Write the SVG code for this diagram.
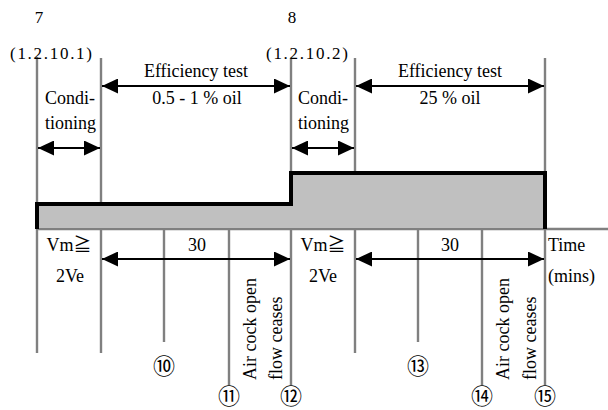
<svg xmlns="http://www.w3.org/2000/svg" width="608" height="410" viewBox="0 0 608 410">
<defs>
<style>
text{font-family:"Liberation Serif","Times New Roman",serif;font-size:18px;fill:#000}
.sym{font-family:"Liberation Serif","Noto Sans CJK JP",serif}
.hd{font-size:17px}
.c{text-anchor:middle}
.num{font-family:"Noto Sans CJK JP",sans-serif;font-size:22px;text-anchor:middle;dominant-baseline:central}
.vl{stroke:#808080;stroke-width:2.4;fill:none}
.ar{stroke:#000;stroke-width:2;fill:none;marker-start:url(#ah);marker-end:url(#ah)}
</style>
<marker id="ah" viewBox="0 0 16 15" refX="16" refY="7.5" markerWidth="16" markerHeight="15" markerUnits="userSpaceOnUse" orient="auto-start-reverse">
<path d="M0,0 L16,7.5 L0,15 Z" fill="#000"/>
</marker>
</defs>

<g id="gridlines">
<path class="vl" d="M37,57V353 M101,58V353 M164,229V342 M229,229V385 M291,58V385 M355,58V353 M418,229V342 M482,229V385 M545,58V385 M37,229H608"/>
</g>

<g id="level">
<path d="M37,228V204H291V173H545V228Z" fill="#c0c0c0"/>
<path d="M37,229V204H291V173H545V229" fill="none" stroke="#000" stroke-width="4"/>
</g>

<g id="headers">
<text class="hd c" x="39" y="23">7</text>
<text class="hd" x="10" y="59" textLength="82" lengthAdjust="spacing">(1.2.10.1)</text>
<text class="hd c" x="292" y="23">8</text>
<text class="hd" x="266" y="59" textLength="82" lengthAdjust="spacing">(1.2.10.2)</text>
</g>

<g id="conditioning1">
<text x="45" y="104">Condi-</text>
<text x="45" y="129">tioning</text>
</g>
<g id="efficiency1">
<text class="c" x="196" y="77">Efficiency test</text>
<text class="c" x="197" y="104">0.5 - 1 % oil</text>
</g>
<g id="conditioning2">
<text x="298" y="104">Condi-</text>
<text x="298" y="129">tioning</text>
</g>
<g id="efficiency2">
<text class="c" x="450" y="77">Efficiency test</text>
<text class="c" x="450" y="104">25 % oil</text>
</g>

<g id="vm1">
<text class="c sym" x="69" y="251">Vm≧</text>
<text class="c" x="70" y="282">2Ve</text>
</g>
<g id="span1">
<text class="c" x="197" y="251">30</text>
</g>
<g id="vm2">
<text class="c sym" x="323" y="251">Vm≧</text>
<text class="c" x="323" y="282">2Ve</text>
</g>
<g id="span2">
<text class="c" x="450" y="251">30</text>
</g>
<g id="time">
<text x="548" y="251">Time</text>
<text x="548" y="282">(mins)</text>
</g>

<g id="aircock1">
<text transform="translate(256,380) rotate(-90)">Air cock open</text>
<text transform="translate(282,380) rotate(-90)">flow ceases</text>
</g>
<g id="aircock2">
<text transform="translate(509,380) rotate(-90)">Air cock open</text>
<text transform="translate(536,380) rotate(-90)">flow ceases</text>
</g>

<g id="markers">
<text class="num" x="164" y="364">⑩</text>
<text class="num" x="229" y="394">⑪</text>
<text class="num" x="291" y="394">⑫</text>
<text class="num" x="418" y="364">⑬</text>
<text class="num" x="482" y="394">⑭</text>
<text class="num" x="545" y="394">⑮</text>
</g>

<g id="connectors">
<path class="ar" d="M102,86H290"/>
<path class="ar" d="M356,86H544"/>
<path class="ar" d="M38,148H100"/>
<path class="ar" d="M292,148H354"/>
<path class="ar" d="M102,259H290"/>
<path class="ar" d="M356,259H544"/>
</g>
</svg>
